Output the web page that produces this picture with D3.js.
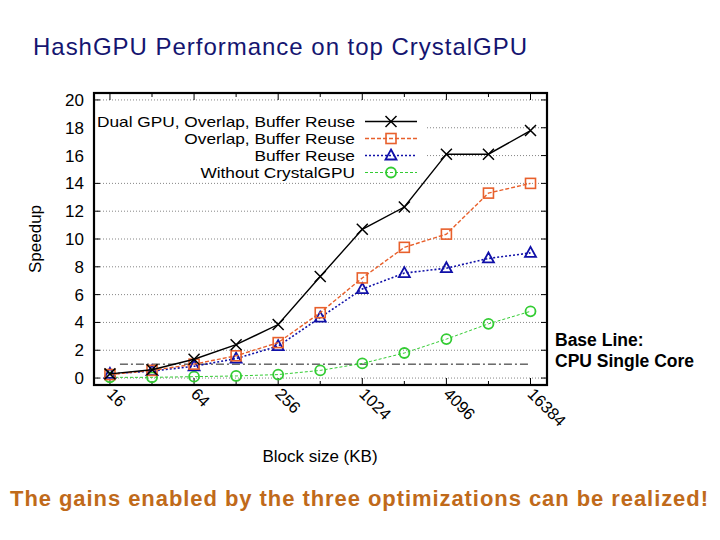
<!DOCTYPE html>
<html>
<head>
<meta charset="utf-8">
<script src="https://cdn.jsdelivr.net/npm/d3@7.9.0/dist/d3.min.js"></script>
<style>
  body { margin: 0; background: #fff; }
  svg { display: block; font-family: "Liberation Sans", Arial, sans-serif; }
</style>
</head>
<body>
<svg id="chart" width="720" height="540"></svg>
<script>
const blockSizes = [16, 32, 64, 128, 256, 512, 1024, 2048, 4096, 8192, 16384];
const tickLabels = [16, 64, 256, 1024, 4096, 16384];
const yTicks = [0, 2, 4, 6, 8, 10, 12, 14, 16, 18, 20];

const dualGpu = [0.3, 0.6, 1.35, 2.4, 3.85, 7.3, 10.7, 12.3, 16.1, 16.1, 17.8];
const overlapReuse = [0.25, 0.55, 1.0, 1.6, 2.55, 4.7, 7.2, 9.4, 10.35, 13.3, 14.0];
const bufferReuse = [0.3, 0.5, 0.85, 1.4, 2.3, 4.35, 6.4, 7.55, 7.9, 8.6, 9.0];
const withoutCrystal = [0.05, 0.05, 0.1, 0.15, 0.25, 0.55, 1.05, 1.8, 2.8, 3.9, 4.8];
const baseLine = 1;

const series = [
  { name: 'Dual GPU, Overlap, Buffer Reuse', values: dualGpu, color: '#000000', dash: null, width: 1.4, marker: 'x' },
  { name: 'Overlap, Buffer Reuse', values: overlapReuse, color: '#e8602c', dash: '4,2', width: 1.4, marker: 'square' },
  { name: 'Buffer Reuse', values: bufferReuse, color: '#1010a8', dash: '2,2', width: 1.6, marker: 'triangle' },
  { name: 'Without CrystalGPU', values: withoutCrystal, color: '#33cc33', dash: '3,2', width: 1.0, marker: 'circle' }
];

const svg = d3.select('#chart');
const plotL = 94, plotR = 547, plotT = 93, plotB = 385;

let x = d3.scaleLog().base(2).domain([12.3, 21500]).range([plotL, plotR]);
let y = d3.scaleLinear().domain([-0.5, 20.5]).range([plotB, plotT]);

// title
svg.append('text')
  .attr('x', 33).attr('y', 55)
  .attr('font-size', 24).attr('fill', '#151570')
  .attr('textLength', 494).attr('lengthAdjust', 'spacing')
  .text('HashGPU Performance on top CrystalGPU');

// grid
svg.append('g').selectAll('line').data(yTicks).join('line')
  .attr('x1', plotL).attr('x2', plotR)
  .attr('y1', (d) => y(d)).attr('y2', (d) => y(d))
  .attr('stroke', '#666').attr('stroke-width', 0.8).attr('stroke-dasharray', '1,2');

// base line
svg.append('line')
  .attr('x1', x(16) + 10).attr('x2', x(16384))
  .attr('y1', y(baseLine)).attr('y2', y(baseLine))
  .attr('stroke', '#000').attr('stroke-width', 0.9).attr('stroke-dasharray', '8,3,2,3');

// ticks, inward and mirrored
let ticks = svg.append('g').attr('stroke', '#000').attr('stroke-width', 1);
blockSizes.forEach((b) => {
  let len = tickLabels.includes(b) ? 7 : 4;
  ticks.append('line').attr('x1', x(b)).attr('x2', x(b)).attr('y1', plotB).attr('y2', plotB - len);
  ticks.append('line').attr('x1', x(b)).attr('x2', x(b)).attr('y1', plotT).attr('y2', plotT + len);
});
yTicks.forEach((t) => {
  ticks.append('line').attr('x1', plotL).attr('x2', plotL + 6).attr('y1', y(t)).attr('y2', y(t));
  ticks.append('line').attr('x1', plotR).attr('x2', plotR - 6).attr('y1', y(t)).attr('y2', y(t));
});

// y tick labels
svg.append('g').selectAll('text').data(yTicks).join('text')
  .attr('x', 84).attr('y', (d) => y(d) + 6)
  .attr('text-anchor', 'end').attr('font-size', 17)
  .text((d) => d);

// x tick labels
svg.append('g').selectAll('text').data(tickLabels).join('text')
  .attr('transform', (d) => `translate(${x(d) - 4},${plotB + 10}) rotate(45)`)
  .attr('font-size', 16.5)
  .text((d) => d);

// axis titles
svg.append('text')
  .attr('transform', `translate(41,${(plotT + plotB) / 2}) rotate(-90)`)
  .attr('text-anchor', 'middle').attr('font-size', 17)
  .text('Speedup');
svg.append('text')
  .attr('x', 320).attr('y', 462)
  .attr('text-anchor', 'middle').attr('font-size', 17)
  .text('Block size (KB)');

function drawMarker(g, type, cx, cy, color) {
  if (type === 'x') {
    g.append('path').attr('d', `M${cx - 5.5},${cy - 5.5}L${cx + 5.5},${cy + 5.5}M${cx - 5.5},${cy + 5.5}L${cx + 5.5},${cy - 5.5}`)
      .attr('stroke', color).attr('stroke-width', 1.5).attr('fill', 'none');
  } else if (type === 'square') {
    g.append('rect').attr('x', cx - 5).attr('y', cy - 5).attr('width', 10).attr('height', 10)
      .attr('stroke', color).attr('stroke-width', 1.6).attr('fill', 'none');
  } else if (type === 'triangle') {
    g.append('path').attr('d', `M${cx},${cy - 6}L${cx + 5.5},${cy + 4}L${cx - 5.5},${cy + 4}Z`)
      .attr('stroke', color).attr('stroke-width', 1.8).attr('fill', 'none');
  } else {
    g.append('circle').attr('cx', cx).attr('cy', cy).attr('r', 5)
      .attr('stroke', color).attr('stroke-width', 1.8).attr('fill', 'none');
  }
}

// legend box (hides grid behind it)
svg.append('rect').attr('x', plotL + 1).attr('y', 110).attr('width', 330).attr('height', 71).attr('fill', '#fff');

let line = d3.line().x((d) => x(d[0])).y((d) => y(d[1]));

// series drawn back to front
[...series].reverse().forEach((s) => {
  let g = svg.append('g');
  let pts = blockSizes.map((b, i) => [b, s.values[i]]);
  g.append('path').attr('d', line(pts))
    .attr('fill', 'none').attr('stroke', s.color).attr('stroke-width', s.width)
    .attr('stroke-dasharray', s.dash);
  pts.forEach((p) => drawMarker(g, s.marker, x(p[0]), y(p[1]), s.color));
});

// legend: the reference font is wide, so stretch glyphs to its widths
let legendTexts = [];
series.forEach((s, i) => {
  let ly = 121.5 + i * 17;
  let t = svg.append('text').attr('x', 355).attr('y', ly + 5.5)
    .attr('text-anchor', 'end').attr('font-size', 14.5).text(s.name);
  legendTexts.push(t);
  let g = svg.append('g');
  g.append('line').attr('x1', 365).attr('x2', 417).attr('y1', ly).attr('y2', ly)
    .attr('stroke', s.color).attr('stroke-width', s.width).attr('stroke-dasharray', s.dash);
  drawMarker(g, s.marker, 391, ly, s.color);
});
let stretch = 258 / legendTexts[0].node().getComputedTextLength();
legendTexts.forEach((t) => {
  let w = t.node().getComputedTextLength();
  t.attr('textLength', w * stretch).attr('lengthAdjust', 'spacingAndGlyphs');
});

// frame
svg.append('rect').attr('x', plotL).attr('y', plotT).attr('width', plotR - plotL).attr('height', plotB - plotT)
  .attr('fill', 'none').attr('stroke', '#000').attr('stroke-width', 2.2);

// annotations
svg.append('text').attr('x', 555).attr('y', 346)
  .attr('font-size', 17.5).attr('font-weight', 'bold').text('Base Line:');
svg.append('text').attr('x', 555).attr('y', 367)
  .attr('font-size', 17.5).attr('font-weight', 'bold').text('CPU Single Core');

svg.append('text').attr('x', 10).attr('y', 506)
  .attr('font-size', 22).attr('font-weight', 'bold')
  .attr('fill', '#c06a1a')
  .attr('textLength', 698).attr('lengthAdjust', 'spacing')
  .text('The gains enabled by the three optimizations can be realized!');
</script>
</body>
</html>
